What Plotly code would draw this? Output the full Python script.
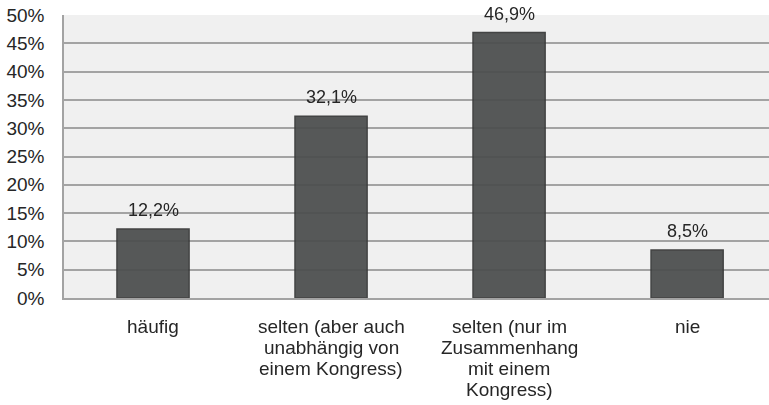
import plotly.graph_objects as go

categories = ["häufig",
              "selten (aber auch<br>unabhängig von<br>einem Kongress)",
              "selten (nur im<br>Zusammenhang<br>mit einem<br>Kongress)",
              "nie"]
values = [0.122, 0.321, 0.469, 0.085]
y_ticks = [0, 0.05, 0.10, 0.15, 0.20, 0.25, 0.30, 0.35, 0.40, 0.45, 0.50]

FONT = "Liberation Sans, Arial, sans-serif"
TXT = "#262626"

fig = go.Figure()
fig.add_trace(go.Bar(
    x=categories, y=values,
    marker=dict(color="#4c4e4e", line=dict(color="#383939", width=1.5)),
    opacity=0.94,
    cliponaxis=False,
))
# value labels
for c, v in zip(categories, values):
    fig.add_annotation(x=c, y=v, text=f"{v*100:.1f}%".replace(".", ","),
                       showarrow=False, yanchor="middle", yshift=19,
                       font=dict(size=18, color=TXT, family=FONT))
# category labels, one annotation per line for tight line spacing
for c in categories:
    for i, line in enumerate(c.split("<br>")):
        fig.add_annotation(x=c, y=0, yref="paper", text=line, showarrow=False,
                           yanchor="middle", yshift=-28 - 21 * i,
                           font=dict(size=19, color=TXT, family=FONT))

fig.update_layout(
    width=769, height=405,
    margin=dict(l=64, r=0, t=15, b=107),
    paper_bgcolor="white", plot_bgcolor="#f0f0f0",
    separators=",.",
    bargap=0.595,
    showlegend=False,
    font=dict(family=FONT, size=19, color=TXT),
)
fig.update_yaxes(range=[0, 0.5], tickvals=y_ticks, tickformat=".0%",
                 gridcolor="#a3a3a3", gridwidth=1.5, showline=True,
                 linecolor="#a3a3a3", linewidth=1.5, zeroline=False,
                 ticks="", ticklabelstandoff=14, fixedrange=True)
fig.update_xaxes(showline=True, linecolor="#a3a3a3", linewidth=1.5,
                 ticks="", showticklabels=False, range=[-0.5, 3.46])
fig.write_html("out.html", config={"displayModeBar": False},
               post_script="document.body.style.margin='0';document.body.style.overflow='hidden';")
